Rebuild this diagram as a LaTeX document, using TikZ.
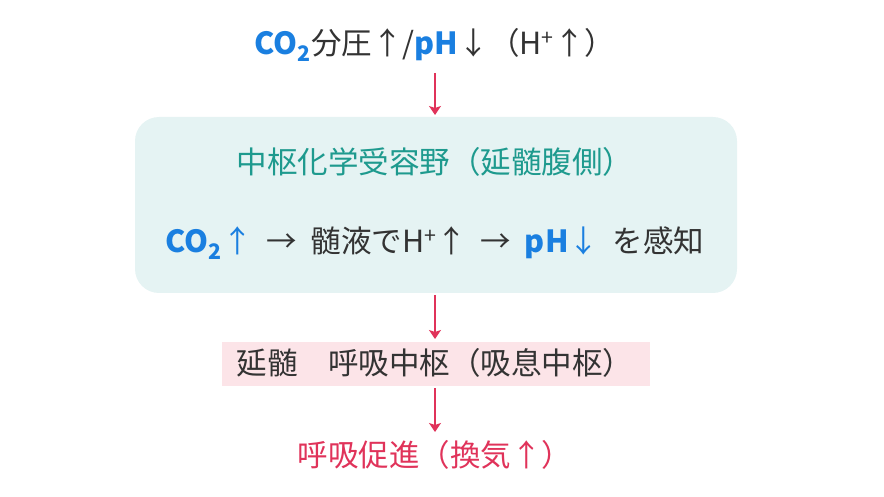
\documentclass[tikz,border=0pt]{standalone}
\usepackage{fontspec}
\setmainfont{Noto Sans CJK JP}
\usetikzlibrary{positioning,arrows.meta}
\definecolor{cblue}{HTML}{1A7FE0}
\definecolor{cteal}{HTML}{1E9A8E}
\definecolor{cpink}{HTML}{E0335A}
\definecolor{cbox}{HTML}{E5F3F3}
\definecolor{cpinkbox}{HTML}{FCE4E8}
\definecolor{ctext}{HTML}{333333}
\newcommand{\bl}[1]{\textcolor{cblue}{\textbf{#1}}}
\tikzset{
  txt/.style={font=\fontsize{30.5}{33}\selectfont,text=ctext,inner sep=0pt},
  flow/.style={draw=cpink,line width=1.6pt,-{Stealth[length=9pt,width=12pt,inset=2pt]}}
}
\begin{document}
\begin{tikzpicture}[x=1pt,y=-1pt]
\useasboundingbox (0,0) rectangle (884,497);
%boxes
\fill[cbox,rounded corners=24pt](135,117) rectangle (737,293);
\fill[cpinkbox](222,342) rectangle (650,386);
%texts
\node[txt] (top) at (435,45) {\bl{CO\textsubscript{2}}分圧↑/\bl{pH}↓（H\textsuperscript{+}↑）};
\node[txt,text=cteal] (title) at (435,162) {中枢化学受容野（延髄腹側）};
\node[txt] (sense) at (435,243) {\bl{CO\textsubscript{2}}\textcolor{cblue}{↑}\ \ →\ \ 髄液でH\textsuperscript{+}↑\ \ →\ \ \bl{pH}\textcolor{cblue}{↓}\ \ を感知};
\node[txt] (center) at (435,363) {延髄　呼吸中枢（吸息中枢）};
\node[txt,text=cpink] (result) at (435,455) {呼吸促進（換気↑）};
%arrows
\coordinate (boxtop) at (435,115);
\coordinate (boxbot) at (435,295);
\draw[flow] (435,73) -- (boxtop);
\draw[flow] (boxbot) -- (435,339);
\draw[flow] (435,388) -- (435,432);
\end{tikzpicture}
\end{document}
